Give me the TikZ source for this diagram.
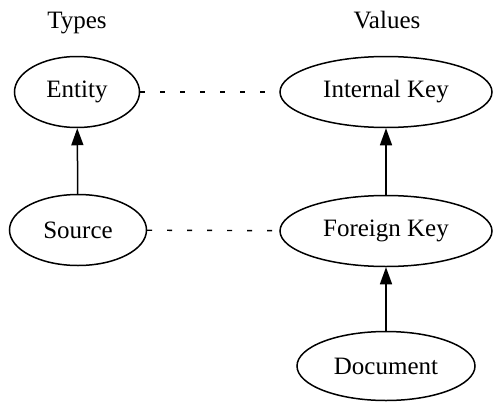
\documentclass[tikz,border=0pt]{standalone}
\usepackage{fontspec}
\setmainfont{Liberation Serif}
\usetikzlibrary{shapes.geometric,arrows.meta}
\begin{document}
\begin{tikzpicture}[x=1pt,y=-1pt,
  every node/.style={font=\fontsize{25}{30}\selectfont},
  oval/.style={ellipse,draw,line width=1.5pt,inner sep=0pt},
  link/.style={line width=1.5pt,-{Triangle[length=17pt,width=12pt]}},
  pair/.style={line width=1.4pt,dash pattern=on 5pt off 15pt}]
\useasboundingbox (0,0) rectangle (493,402);
% column headings
\node[anchor=base] (types) at (77,28) {Types};
\node[anchor=base] (values) at (387,28) {Values};
% type column
\node[oval,minimum width=125pt,minimum height=71pt] (entity) at (77,92) {Entity};
\node[oval,minimum width=137pt,minimum height=71pt] (source) at (78,230) {Source};
% value column
\node[oval,minimum width=212pt,minimum height=71pt] (ikey) at (386,92) {Internal Key};
\node[oval,minimum width=212pt,minimum height=71pt] (fkey) at (386,231) {Foreign Key};
\node[oval,minimum width=178pt,minimum height=69pt] (doc) at (386,366) {Document};
% references
\draw[link] (source) -- (entity);
\draw[link] (fkey) -- (ikey);
\draw[link] (doc) -- (fkey);
% correspondences between types and values
\draw[pair] (entity) -- (ikey);
\draw[pair] (source) -- (fkey);
\end{tikzpicture}
\end{document}
